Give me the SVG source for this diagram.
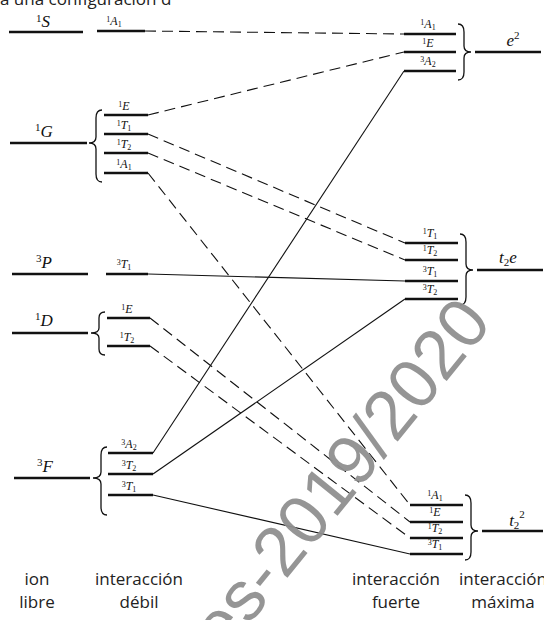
<svg xmlns="http://www.w3.org/2000/svg" width="544" height="620" viewBox="0 0 544 620">
<style>
.lv{stroke:#111;stroke-width:2.3;fill:none}
.br{stroke:#111;stroke-width:1.3;fill:none}
.c{stroke:#111;stroke-width:1.1;fill:none}
.d{stroke-dasharray:11,6}
.lb{font-family:"Liberation Serif",serif;font-size:12px;font-style:italic;fill:#111;text-anchor:middle}
.big{font-family:"Liberation Serif",serif;font-size:17px;font-style:italic;fill:#111;text-anchor:middle}
.sp{font-size:8px;font-style:normal}
.bsp{font-size:11px;font-style:normal}
.cap{font-family:"Open Sans","Liberation Sans",sans-serif;font-size:17px;fill:#222;text-anchor:middle}
.wm{font-family:"Liberation Sans",Arial,sans-serif;font-size:70px;fill:#8f8f8f;fill-opacity:0.95}
</style>
<rect width="544" height="620" fill="#fff"/>
<text x="0" y="5" style="font-family:'Open Sans','Liberation Sans',sans-serif;font-size:17px;fill:#222">a una configuración d</text>

<g id="connectors">
<line class="c d" x1="145" y1="31" x2="404" y2="34"/>
<line class="c d" x1="148" y1="115" x2="404" y2="52"/>
<line class="c d" x1="148" y1="134" x2="405" y2="243"/>
<line class="c d" x1="148" y1="153" x2="405" y2="260"/>
<line class="c d" x1="148" y1="173" x2="410" y2="505"/>
<line class="c" x1="148" y1="274" x2="405" y2="281"/>
<line class="c d" x1="150" y1="318" x2="410" y2="522"/>
<line class="c d" x1="150" y1="346" x2="410" y2="538"/>
<line class="c" x1="153" y1="453" x2="404" y2="71"/>
<line class="c" x1="153" y1="474" x2="405" y2="299"/>
<line class="c" x1="153" y1="495" x2="410" y2="554"/>
</g>

<g id="free-1S">
<line class="lv" x1="9" y1="32" x2="83" y2="32"/>
<text class="big" x="43" y="27"><tspan class="bsp" dy="-5">1</tspan><tspan dy="5">S</tspan></text>
</g>
<g id="free-1G">
<line class="lv" x1="10" y1="143" x2="87" y2="143"/>
<text class="big" x="44" y="137"><tspan class="bsp" dy="-6">1</tspan><tspan dy="6">G</tspan></text>
</g>
<g id="free-3P">
<line class="lv" x1="12" y1="274" x2="88" y2="274"/>
<text class="big" x="44" y="268"><tspan class="bsp" dy="-6">3</tspan><tspan dy="6">P</tspan></text>
</g>
<g id="free-1D">
<line class="lv" x1="12" y1="333" x2="88" y2="333"/>
<text class="big" x="44" y="326"><tspan class="bsp" dy="-6">1</tspan><tspan dy="6">D</tspan></text>
</g>
<g id="free-3F">
<line class="lv" x1="14" y1="478" x2="90" y2="478"/>
<text class="big" x="45" y="472"><tspan class="bsp" dy="-6">3</tspan><tspan dy="6">F</tspan></text>
</g>

<g id="weak-S">
<line class="lv" x1="97" y1="31" x2="145" y2="31"/>
<text class="lb" x="114" y="25"><tspan class="sp" dy="-3">1</tspan><tspan dy="3">A</tspan><tspan class="sp" dy="2">1</tspan></text>
</g>
<g id="weak-G">
<path class="br" d="M102 110 Q96 110 96 118 L96 137 Q96 143 89 143 Q96 143 96 149 L96 174 Q96 182 102 182"/>
<line class="lv" x1="104" y1="115" x2="148" y2="115"/>
<line class="lv" x1="104" y1="134" x2="148" y2="134"/>
<line class="lv" x1="104" y1="153" x2="148" y2="153"/>
<line class="lv" x1="104" y1="173" x2="148" y2="173"/>
<text class="lb" x="124" y="110"><tspan class="sp" dy="-3">1</tspan><tspan dy="3">E</tspan></text>
<text class="lb" x="124" y="129"><tspan class="sp" dy="-3">1</tspan><tspan dy="3">T</tspan><tspan class="sp" dy="2">1</tspan></text>
<text class="lb" x="124" y="148"><tspan class="sp" dy="-3">1</tspan><tspan dy="3">T</tspan><tspan class="sp" dy="2">2</tspan></text>
<text class="lb" x="124" y="168"><tspan class="sp" dy="-3">1</tspan><tspan dy="3">A</tspan><tspan class="sp" dy="2">1</tspan></text>
</g>
<g id="weak-P">
<line class="lv" x1="106" y1="274" x2="148" y2="274"/>
<text class="lb" x="124" y="268"><tspan class="sp" dy="-3">3</tspan><tspan dy="3">T</tspan><tspan class="sp" dy="2">1</tspan></text>
</g>
<g id="weak-D">
<path class="br" d="M105 312 Q99 312 99 318 L99 328 Q99 333 91 333 Q99 333 99 338 L99 349 Q99 355 105 355"/>
<line class="lv" x1="107" y1="318" x2="150" y2="318"/>
<line class="lv" x1="107" y1="346" x2="150" y2="346"/>
<text class="lb" x="127" y="313"><tspan class="sp" dy="-3">1</tspan><tspan dy="3">E</tspan></text>
<text class="lb" x="127" y="341"><tspan class="sp" dy="-3">1</tspan><tspan dy="3">T</tspan><tspan class="sp" dy="2">2</tspan></text>
</g>
<g id="weak-F">
<path class="br" d="M107 447 Q101 447 101 455 L101 472 Q101 478 93 478 Q101 478 101 484 L101 507 Q101 515 107 515"/>
<line class="lv" x1="108" y1="453" x2="153" y2="453"/>
<line class="lv" x1="108" y1="474" x2="153" y2="474"/>
<line class="lv" x1="108" y1="495" x2="153" y2="495"/>
<text class="lb" x="129" y="448"><tspan class="sp" dy="-3">3</tspan><tspan dy="3">A</tspan><tspan class="sp" dy="2">2</tspan></text>
<text class="lb" x="129" y="469"><tspan class="sp" dy="-3">3</tspan><tspan dy="3">T</tspan><tspan class="sp" dy="2">2</tspan></text>
<text class="lb" x="129" y="490"><tspan class="sp" dy="-3">3</tspan><tspan dy="3">T</tspan><tspan class="sp" dy="2">1</tspan></text>
</g>

<g id="strong-e2">
<line class="lv" x1="404" y1="34" x2="456" y2="34"/>
<line class="lv" x1="404" y1="52" x2="456" y2="52"/>
<line class="lv" x1="404" y1="71" x2="456" y2="71"/>
<text class="lb" x="428" y="28"><tspan class="sp" dy="-3">1</tspan><tspan dy="3">A</tspan><tspan class="sp" dy="2">1</tspan></text>
<text class="lb" x="428" y="47"><tspan class="sp" dy="-3">1</tspan><tspan dy="3">E</tspan></text>
<text class="lb" x="428" y="65"><tspan class="sp" dy="-3">3</tspan><tspan dy="3">A</tspan><tspan class="sp" dy="2">2</tspan></text>
<path class="br" d="M458 24 Q464 24 464 32 L464 46 Q464 52 471 52 Q464 52 464 58 L464 72 Q464 80 458 80"/>
<line class="lv" x1="475" y1="52" x2="541" y2="52"/>
<text class="big" x="513" y="46">e<tspan class="bsp" dy="-7">2</tspan></text>
</g>
<g id="strong-t2e">
<line class="lv" x1="405" y1="243" x2="458" y2="243"/>
<line class="lv" x1="405" y1="260" x2="458" y2="260"/>
<line class="lv" x1="405" y1="281" x2="458" y2="281"/>
<line class="lv" x1="405" y1="299" x2="458" y2="299"/>
<text class="lb" x="430" y="237"><tspan class="sp" dy="-3">1</tspan><tspan dy="3">T</tspan><tspan class="sp" dy="2">1</tspan></text>
<text class="lb" x="430" y="254"><tspan class="sp" dy="-3">1</tspan><tspan dy="3">T</tspan><tspan class="sp" dy="2">2</tspan></text>
<text class="lb" x="430" y="275"><tspan class="sp" dy="-3">3</tspan><tspan dy="3">T</tspan><tspan class="sp" dy="2">1</tspan></text>
<text class="lb" x="430" y="293"><tspan class="sp" dy="-3">3</tspan><tspan dy="3">T</tspan><tspan class="sp" dy="2">2</tspan></text>
<path class="br" d="M460 234 Q466 234 466 242 L466 264 Q466 270 473 270 Q466 270 466 276 L466 297 Q466 305 460 305"/>
<line class="lv" x1="477" y1="270" x2="543" y2="270"/>
<text class="big" x="508" y="263">t<tspan class="bsp" dy="3">2</tspan><tspan dy="-3">e</tspan></text>
</g>
<g id="strong-t22">
<line class="lv" x1="410" y1="505" x2="463" y2="505"/>
<line class="lv" x1="410" y1="522" x2="463" y2="522"/>
<line class="lv" x1="410" y1="538" x2="463" y2="538"/>
<line class="lv" x1="410" y1="554" x2="463" y2="554"/>
<text class="lb" x="435" y="499"><tspan class="sp" dy="-3">1</tspan><tspan dy="3">A</tspan><tspan class="sp" dy="2">1</tspan></text>
<text class="lb" x="435" y="516"><tspan class="sp" dy="-3">1</tspan><tspan dy="3">E</tspan></text>
<text class="lb" x="435" y="532"><tspan class="sp" dy="-3">1</tspan><tspan dy="3">T</tspan><tspan class="sp" dy="2">2</tspan></text>
<text class="lb" x="435" y="548"><tspan class="sp" dy="-3">3</tspan><tspan dy="3">T</tspan><tspan class="sp" dy="2">1</tspan></text>
<path class="br" d="M465 495 Q471 495 471 503 L471 525 Q471 531 478 531 Q471 531 471 537 L471 552 Q471 560 465 560"/>
<line class="lv" x1="482" y1="531" x2="543" y2="531"/>
<text class="big" x="517" y="526">t<tspan class="bsp" dy="3">2</tspan><tspan class="bsp" dy="-11">2</tspan></text>
</g>

<g id="captions">
<text class="cap" x="37" y="585">ion</text>
<text class="cap" x="37" y="608">libre</text>
<text class="cap" x="139" y="585">interacción</text>
<text class="cap" x="139" y="608">débil</text>
<text class="cap" x="396" y="585">interacción</text>
<text class="cap" x="396" y="608">fuerte</text>
<text class="cap" x="503" y="585">interacción</text>
<text class="cap" x="503" y="608">máxima</text>
</g>

<text class="wm" transform="translate(224,656) rotate(-51)">es-2019/2020</text>
</svg>
